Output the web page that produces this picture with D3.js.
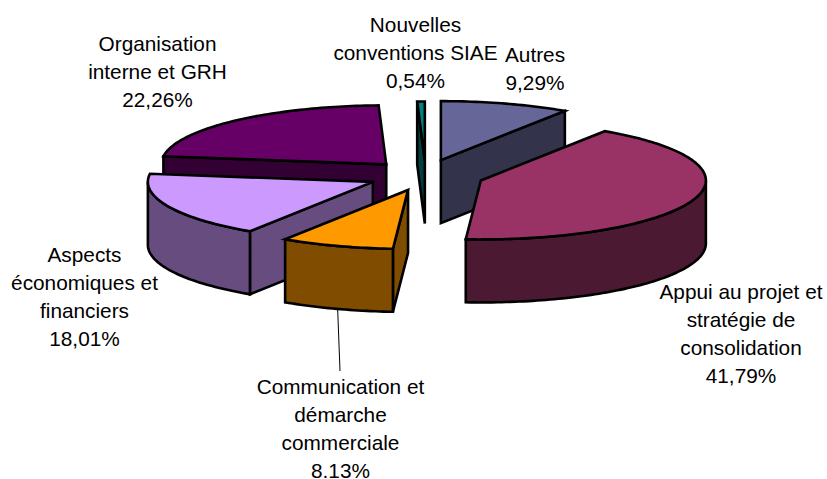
<!DOCTYPE html>
<html><head><meta charset="utf-8">
<script src="https://cdn.jsdelivr.net/npm/d3@7"></script>
<style>html,body{margin:0;padding:0;background:#fff}svg{display:block}text{font-family:"Liberation Sans",Arial,sans-serif;font-size:20.8px;fill:#000}</style>
</head><body><svg id="c" width="827" height="479"></svg>
<script>
const categories = ["Autres","Appui au projet et stratégie de consolidation","Communication et démarche commerciale","Aspects économiques et financiers","Organisation interne et GRH","Nouvelles conventions SIAE"];
const values = [9.29,41.79,8.13,18.01,22.26,0.54];
const valueLabels = ["9,29%","41,79%","8.13%","18,01%","22,26%","0,54%"];
const topColors = ["#666699","#993366","#FF9900","#CC99FF","#660066","#008080"];
const wallColors = ["#33334C","#4C1933","#7F4C00","#664C7F","#330033","#004040"];
const labelLines = [["Autres"],["Appui au projet et","stratégie de","consolidation"],["Communication et","démarche","commerciale"],["Aspects","économiques et","financiers"],["Organisation","interne et GRH"],["Nouvelles","conventions SIAE"]];
const labelCenters = [[535,62],[741,299],[340.5,394],[84.5,262],[157.5,51],[415.5,32]];
const drawOrder = [4,0,5,3,1,2];
const sliceNudge = [[-2,-1],[0,0],[0,0],[-1,0],[-1.5,0],[-0.5,0]];

const cx=426.3, cy=175.6, rx=225, ry=59, depth=63, explode=57.6;
const lineH=28;
const svg=d3.select("#c");
const arcs=d3.pie().sort(null).value(d=>d).startAngle(0).endAngle(2*Math.PI)(values);
const sx=d3.scaleLinear().domain([-1,1]).range([-rx,rx]);
const sy=d3.scaleLinear().domain([-1,1]).range([-ry,ry]);
const line=d3.line();

function pt(o,a,r=1,dz=0){return [o[0]+sx(r*Math.sin(a)),o[1]-sy(r*Math.cos(a))+dz];}
function rim(o,a0,a1,dz){const n=Math.max(2,Math.ceil((a1-a0)/0.02));return d3.range(n+1).map(i=>pt(o,a0+(a1-a0)*i/n,1,dz));}

// leader line for the front slice label
svg.append("line").attr("x1",337.5).attr("y1",305).attr("x2",340).attr("y2",371).attr("stroke","#000").attr("stroke-width",1);

drawOrder.forEach(i=>{
  const d=arcs[i], a=d.startAngle, b=d.endAngle, m=(a+b)/2;
  const o=[cx+explode*Math.sin(m)+sliceNudge[i][0], cy-explode*(ry/rx)*Math.cos(m)+sliceNudge[i][1]];
  const g=svg.append("g").attr("stroke","#000").attr("stroke-width",2.6).attr("stroke-linejoin","miter");
  const top=[[o[0],o[1]],...rim(o,a,b,0)];
  const bot=[o[0],o[1]+depth];
  const face=(ang)=>{const p=pt(o,ang),q=pt(o,ang,1,depth);
    g.append("path").attr("d",line([o,p,q,bot])+"Z").attr("fill",wallColors[i]);};
  if(Math.sin(a)<0) face(a);
  if(Math.sin(b)>0) face(b);
  const w0=Math.max(a,Math.PI/2), w1=Math.min(b,3*Math.PI/2);
  if(w1>w0){
    const up=rim(o,w0,w1,0), dn=rim(o,w0,w1,depth).reverse();
    g.append("path").attr("d",line([...up,...dn])+"Z").attr("fill",wallColors[i]);
  }
  g.append("path").attr("d",line(top)+"Z").attr("fill",topColors[i]);
});

labelLines.forEach((ls,i)=>{
  const t=svg.append("text").attr("text-anchor","middle");
  [...ls,valueLabels[i]].forEach((s,j)=>t.append("tspan").attr("x",labelCenters[i][0]).attr("y",labelCenters[i][1]+j*lineH).text(s));
});
</script></body></html>
